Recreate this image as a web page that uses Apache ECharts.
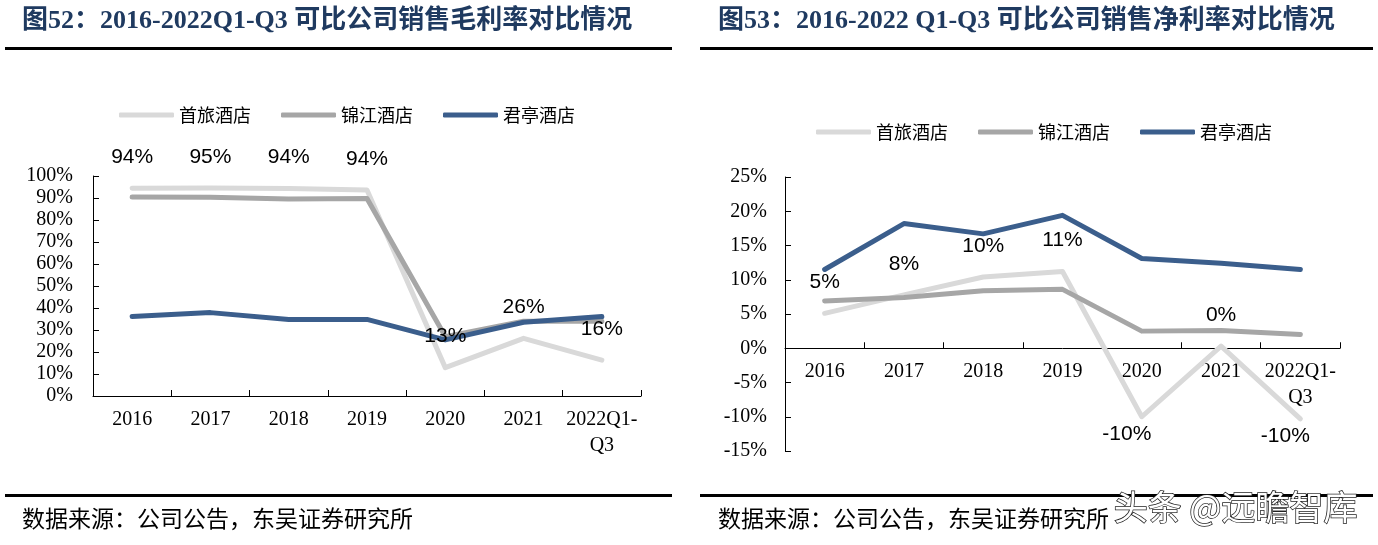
<!DOCTYPE html>
<html>
<head>
<meta charset="utf-8">
<script src="https://cdn.jsdelivr.net/npm/echarts@6/dist/echarts.min.js"></script>
<style>
html,body{margin:0;padding:0;background:#fff;}
#c{width:1378px;height:545px;}
</style>
</head>
<body>
<div id="c"></div>
<script>
var categories = ['2016','2017','2018','2019','2020','2021','2022Q1-\nQ3'];
var seriesNames = ['首旅酒店','锦江酒店','君亭酒店'];
// Gross margin (%)
var grossShoulv = [94.4, 94.6, 94.3, 93.6, 12.9, 26.2, 16.3];
var grossJinjiang = [90.5, 90.3, 89.5, 89.8, 27.0, 34.0, 34.0];
var grossJunting = [36.1, 37.9, 34.8, 34.8, 25.5, 33.5, 36.1];
// Net margin (%)
var netShoulv = [5.1, 7.8, 10.4, 11.2, -10.0, 0.3, -10.3];
var netJinjiang = [6.9, 7.4, 8.4, 8.6, 2.5, 2.6, 2.0];
var netJunting = [11.5, 18.2, 16.7, 19.4, 13.1, 12.4, 11.5];
var leftTicks = {min:0, max:100, interval:10};
var rightTicks = {min:-15, max:25, interval:5};

var colors = ['#d9d9d9', '#a6a6a6', '#3b5e8c'];
var serif = '"Liberation Serif","Times New Roman",serif';
var sans = '"Liberation Sans",Arial,sans-serif';
var cjk = '"Noto Sans CJK SC",sans-serif';
var titleFont = '"Liberation Serif","Noto Sans CJK SC",serif';

var H = 545;
var gridL = {left: 93, right: 737, top: 176, bottom: 149};
var gridR = {left: 785, right: 38, top: 177, bottom: 94};
// offset that lifts the right x-axis from the grid bottom onto the 0 line
var rHeight = H - gridR.top - gridR.bottom;
var zeroFromBottom = rHeight * (0 - rightTicks.min) / (rightTicks.max - rightTicks.min);

function lineSeries(name, data, idx) {
  var ci = seriesNames.indexOf(name);
  return {
    type: 'line', name: name, xAxisIndex: idx, yAxisIndex: idx,
    symbol: 'none',
    lineStyle: {width: 5, color: colors[ci], cap: 'round', join: 'round'},
    itemStyle: {color: colors[ci]},
    emphasis: {disabled: true},
    z: 2 + ci,
    data: data
  };
}
function labelSeries(data, idx) {
  return {
    type: 'line', name: 'labels', xAxisIndex: idx, yAxisIndex: idx,
    symbol: 'circle', symbolSize: 1, showSymbol: true,
    lineStyle: {color: 'rgba(0,0,0,0)', width: 0},
    itemStyle: {color: 'rgba(0,0,0,0)', borderWidth: 0},
    emphasis: {disabled: true},
    z: 20,
    data: data.map(function (v) {
      return {value: v, label: v < 0 ? {position: 'bottom', distance: 6, offset: [-15, 0]} : {position: 'top', distance: 20}};
    }),
    label: {
      show: true, color: '#000', fontFamily: sans, fontSize: 21,
      formatter: function (p) { return Math.round(p.value) + '%'; }
    }
  };
}

function xAxis(gridIndex, margin, offset) {
  return {
    type: 'category', gridIndex: gridIndex, data: categories, boundaryGap: true,
    position: 'bottom', offset: offset,
    axisLine: {show: true, onZero: false, lineStyle: {color: '#000', width: 1}},
    axisTick: {show: true, inside: true, length: 6, lineStyle: {color: '#000'}},
    axisLabel: {color: '#000', fontFamily: serif, fontSize: 20, lineHeight: 26, margin: margin, interval: 0},
    splitLine: {show: false}
  };
}
function yAxis(gridIndex, t, margin) {
  return {
    type: 'value', gridIndex: gridIndex, min: t.min, max: t.max, interval: t.interval,
    axisLine: {show: true, lineStyle: {color: '#000', width: 1}},
    axisTick: {show: true, inside: true, length: 6, lineStyle: {color: '#000'}},
    axisLabel: {color: '#000', fontFamily: serif, fontSize: 20, margin: margin, formatter: '{value}%'},
    splitLine: {show: false}
  };
}

function legend(left, top) {
  return {
    left: left, top: top, orient: 'horizontal', data: seriesNames,
    icon: 'roundRect', itemWidth: 55, itemHeight: 5, itemGap: 30,
    textStyle: {color: '#000', fontFamily: cjk, fontSize: 18},
    selectedMode: false
  };
}

var chart = echarts.init(document.getElementById('c'), null, {renderer: 'canvas'});
chart.setOption({
  backgroundColor: '#fff',
  animation: false,
  legend: [legend(114, 101), legend(811, 118)],
  grid: [
    {left: gridL.left, right: gridL.right, top: gridL.top, bottom: gridL.bottom},
    {left: gridR.left, right: gridR.right, top: gridR.top, bottom: gridR.bottom}
  ],
  xAxis: [xAxis(0, 11, 0), xAxis(1, 10, -zeroFromBottom)],
  yAxis: [yAxis(0, leftTicks, 20), yAxis(1, rightTicks, 18)],
  series: [
    lineSeries('首旅酒店', grossShoulv, 0),
    lineSeries('锦江酒店', grossJinjiang, 0),
    lineSeries('君亭酒店', grossJunting, 0),
    labelSeries(grossShoulv, 0),
    lineSeries('首旅酒店', netShoulv, 1),
    lineSeries('锦江酒店', netJinjiang, 1),
    lineSeries('君亭酒店', netJunting, 1),
    labelSeries(netShoulv, 1)
  ],
  graphic: [
    {type: 'text', left: 22, top: 8, style: {text: '图52：2016-2022Q1-Q3 可比公司销售毛利率对比情况', fill: '#1f3a60', font: 'bold 26px ' + titleFont}},
    {type: 'text', left: 718, top: 8, style: {text: '图53：2016-2022 Q1-Q3 可比公司销售净利率对比情况', fill: '#1f3a60', font: 'bold 26px ' + titleFont}},
    {type: 'rect', shape: {x: 5, y: 47, width: 667, height: 3}, style: {fill: '#000'}},
    {type: 'rect', shape: {x: 700, y: 47, width: 673, height: 3}, style: {fill: '#000'}},
    {type: 'rect', shape: {x: 5, y: 494, width: 667, height: 3}, style: {fill: '#000'}},
    {type: 'rect', shape: {x: 700, y: 494, width: 673, height: 3}, style: {fill: '#000'}},
    {type: 'text', left: 22, top: 507, style: {text: '数据来源：公司公告，东吴证券研究所', fill: '#000', font: '23px ' + cjk}},
    {type: 'text', left: 718, top: 507, style: {text: '数据来源：公司公告，东吴证券研究所', fill: '#000', font: '23px ' + cjk}},
    {type: 'text', left: 1113, top: 489, z: 100, style: {text: '头条 @远瞻智库', fill: '#fff', stroke: '#222', lineWidth: 1.5, font: '34px ' + cjk}}
  ]
});
</script>
</body>
</html>
